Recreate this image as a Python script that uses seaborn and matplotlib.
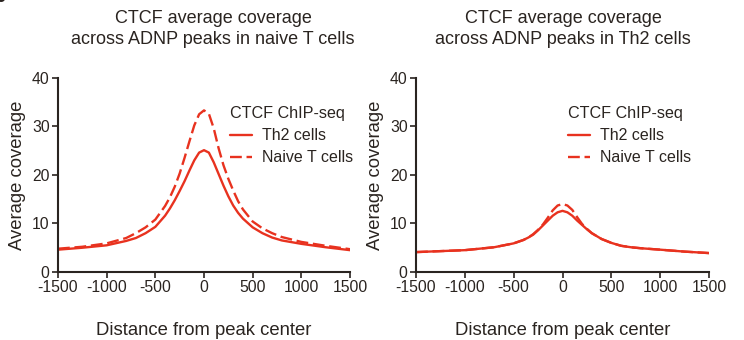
import pandas as pd
import matplotlib
matplotlib.use("Agg")
import matplotlib.pyplot as plt
import seaborn as sns

# distance from peak center (bp)
distance = [-1500, -1250, -1000, -800, -700, -600, -500, -400, -350, -300, -250, -200, -150, -100, -50,
            0, 50, 100, 150, 200, 250, 300, 350, 400, 500, 600, 700, 800, 1000, 1250, 1500]

# ADNP peaks in naive T cells
naive_peaks_th2 = [4.6, 5.0, 5.5, 6.4, 7.0, 8.0, 9.3, 11.6, 13.1, 14.8, 16.7, 18.7, 20.9, 23.0, 24.6,
                   25.1, 24.6, 22.6, 20.2, 17.8, 15.6, 13.7, 12.2, 11.0, 9.2, 8.0, 7.1, 6.5, 5.8, 5.1, 4.5]
naive_peaks_naive = [4.8, 5.2, 5.9, 7.0, 8.0, 9.2, 10.8, 13.6, 15.4, 17.6, 20.3, 23.5, 26.9, 30.2, 32.5,
                     33.3, 32.6, 29.6, 25.5, 22.0, 19.2, 16.8, 14.6, 12.9, 10.4, 9.0, 8.0, 7.2, 6.2, 5.4, 4.7]

# ADNP peaks in Th2 cells
th2_peaks_th2 = [4.1, 4.3, 4.5, 4.9, 5.1, 5.5, 5.9, 6.6, 7.1, 7.7, 8.6, 9.6, 10.6, 11.6, 12.3,
                 12.6, 12.3, 11.6, 10.6, 9.7, 8.8, 8.0, 7.4, 6.8, 6.0, 5.4, 5.1, 4.9, 4.6, 4.2, 3.9]
th2_peaks_naive = [4.1, 4.3, 4.5, 4.9, 5.1, 5.5, 5.9, 6.6, 7.1, 7.8, 8.7, 9.8, 11.2, 12.7, 13.7,
                   14.0, 13.7, 12.8, 11.3, 9.9, 8.9, 8.0, 7.4, 6.8, 6.0, 5.4, 5.1, 4.9, 4.6, 4.2, 3.9]

conditions = ["Th2 cells", "Naive T cells"]
titles = ["CTCF average coverage\nacross ADNP peaks in naive T cells",
          "CTCF average coverage\nacross ADNP peaks in Th2 cells"]

RED = "#e8321f"
INK = "#2a2420"


def make_df(th2, naive):
    return pd.DataFrame({
        "distance": distance * 2,
        "coverage": th2 + naive,
        "condition": [conditions[0]] * len(th2) + [conditions[1]] * len(naive),
    })


sns.set_style("ticks")
plt.rcParams["font.family"] = ["Liberation Sans", "DejaVu Sans"]
plt.rcParams["axes.unicode_minus"] = False
plt.rcParams["text.color"] = INK
plt.rcParams["axes.labelcolor"] = INK
plt.rcParams["xtick.color"] = INK
plt.rcParams["ytick.color"] = INK

fig = plt.figure(figsize=(7.44, 3.4), dpi=100)
axes = [fig.add_axes([58 / 744, 0.2, 292 / 744, 0.571]),
        fig.add_axes([416 / 744, 0.2, 293 / 744, 0.571])]

panels = [make_df(naive_peaks_th2, naive_peaks_naive),
          make_df(th2_peaks_th2, th2_peaks_naive)]
title_x = [213, 563]
legend_x = [230, 568]

for ax, df, title, tx, lx in zip(axes, panels, titles, title_x, legend_x):
    sns.lineplot(data=df, x="distance", y="coverage", style="condition",
                 style_order=conditions, color=RED, linewidth=1.7,
                 dashes={"Th2 cells": "", "Naive T cells": (5, 2)}, ax=ax)
    ax.set_xlim(-1500, 1500)
    ax.set_ylim(0, 40)
    ax.set_xticks([-1500, -1000, -500, 0, 500, 1000, 1500])
    ax.set_yticks([0, 10, 20, 30, 40])
    ax.tick_params(labelsize=11.3, length=4, width=1.2, pad=2)
    for side in ["left", "bottom"]:
        ax.spines[side].set_linewidth(1.5)
        ax.spines[side].set_color(INK)
    sns.despine(ax=ax)
    ax.set_xlabel("Distance from peak center", fontsize=13.3, labelpad=19)
    ax.set_ylabel("Average coverage", fontsize=13.3, labelpad=4)
    fig.text(tx / 744, 1 - 29 / 340, title, ha="center", va="center",
             fontsize=13, linespacing=1.25)

    leg = ax.legend(title="CTCF ChIP-seq", loc="upper left",
                    bbox_to_anchor=(lx / 744, 1 - 106 / 340),
                    bbox_transform=fig.transFigure, frameon=False,
                    fontsize=11.5, title_fontsize=11.6, borderpad=0,
                    borderaxespad=0, handlelength=1.4, handletextpad=0.6,
                    labelspacing=0.45)
    leg._legend_box.align = "left"

# panel letter, cut off by the figure edge as in the source figure
fig.text(-7 / 744, 1 + 3 / 340, "b", fontsize=16, fontweight="bold",
         ha="left", va="center")

fig.savefig("out.png", dpi=100)
